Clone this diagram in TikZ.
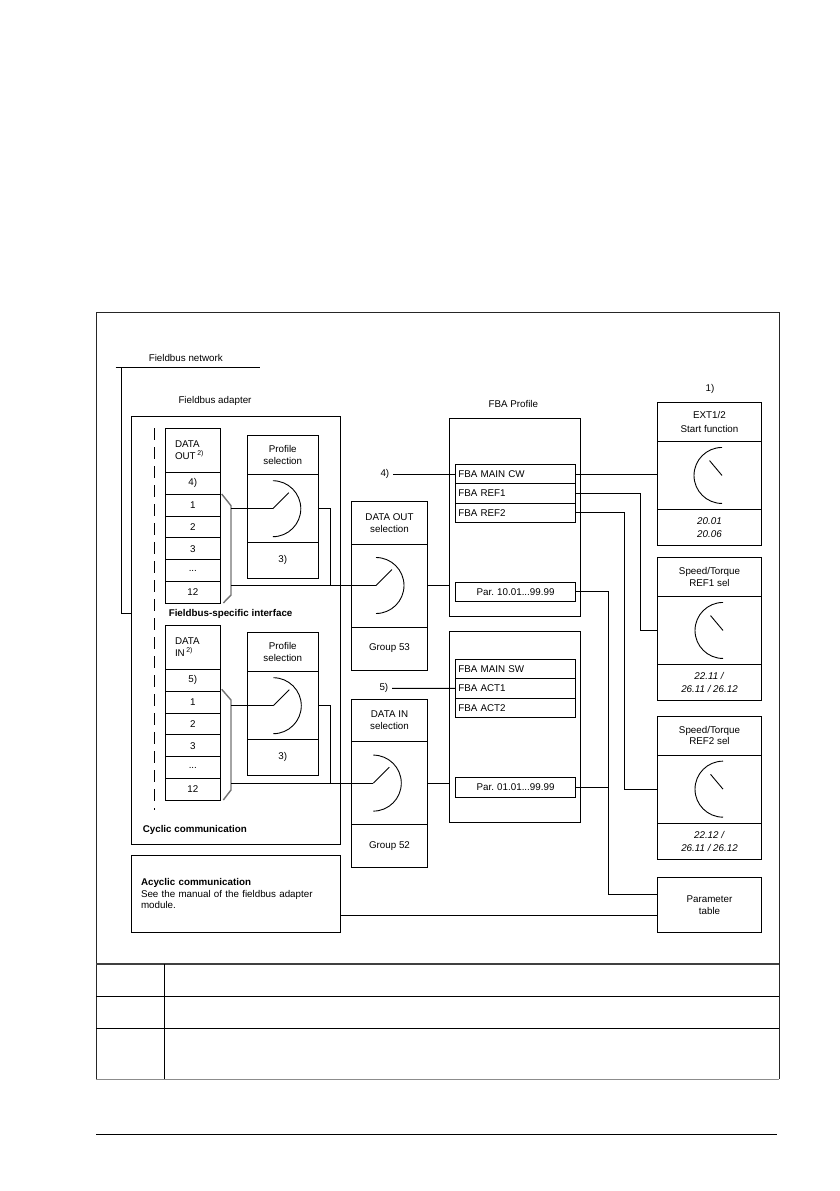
\documentclass[tikz,border=0pt]{standalone}
\usepackage{fontspec}
\setmainfont{Liberation Sans}
\frenchspacing
\usetikzlibrary{positioning}

\begin{document}
\begin{tikzpicture}[x=1pt,y=-1pt,
		font=\fontsize{9.8}{11.8}\selectfont,
		line width=0.9pt,
		box/.style={draw,inner sep=0pt,outer sep=0pt,align=center},
		cell/.style={box,minimum width=55.7pt,minimum height=21.83pt},
		profbox/.style={box,minimum width=71pt},
		selbox/.style={box,minimum width=75.6pt},
		funcbox/.style={box,minimum width=104.4pt},
		prow/.style={draw,inner sep=0pt,outer sep=0pt,inner xsep=3pt,text width=114.4pt,align=left,minimum height=19.33pt},
		bracket/.style={draw=black!55,line width=1.4pt}]

			\useasboundingbox (0,0) rectangle (839,1191);

			% frame and table
			\draw[line width=1pt,black!85] (96,1079.3) -- (96,312) -- (779,312) -- (779,1079.3);
			\draw[line width=1.5pt,black!75] (96,964) -- (779,964);
			\draw (96,996) -- (779,996);
			\draw (96,1028.7) -- (779,1028.7);
			\draw (164.3,964) -- (164.3,1079.3);
			\draw[line width=1.3pt,black!45] (96,1079.3) -- (779,1079.3);
			\draw (96,1134.3) -- (777,1134.3);

			% fieldbus side
			\node (netlbl) at (185.8,357.7) {Fieldbus network};
			\coordinate (netL) at (115.7,367.7);
			\coordinate (netR) at (260,367.7);
			\draw[line width=1.3pt] (netL) -- (netR);

			\node[box,minimum width=209.7pt,minimum height=427.6pt] (adapter) at (235.85,630.5) {};
			\node (adlbl) at (215,401) {Fieldbus adapter};
			\coordinate (tap) at (121,367.7);
			\coordinate (tapin) at (131,613.3);
			\draw (tap) |- (tapin);

			\coordinate (dashtop) at (154.3,428);
			\coordinate (dashbot) at (154.3,810);
			\draw[dash pattern=on 12pt off 7pt] (dashtop) -- (dashbot);

			\node[anchor=west] (fsi) at (165,614) {\textbf{Fieldbus-specific interface}};
			\node[anchor=west] (cyc) at (139,830) {\textbf{Cyclic communication}};

			\node[cell,minimum height=44.3pt,text width=35.7pt,align=left] (outhead) at (192.85,450.15) {DATA\\OUT\,\textsuperscript{2)}};
			\node[cell,below=0pt of outhead] (out4) {4)};
			\node[cell,below=0pt of out4] (out1) {1};
			\node[cell,below=0pt of out1] (out2) {2};
			\node[cell,below=0pt of out2] (out3) {3};
			\node[cell,below=0pt of out3] (outdots) {...};
			\node[cell,below=0pt of outdots] (out12) {12};

			\node[cell,minimum height=44.3pt,text width=35.7pt,align=left] (inhead) at (192.85,647.15) {DATA\\IN\,\textsuperscript{2)}};
			\node[cell,below=0pt of inhead] (in5) {5)};
			\node[cell,below=0pt of in5] (in1) {1};
			\node[cell,below=0pt of in1] (in2) {2};
			\node[cell,below=0pt of in2] (in3) {3};
			\node[cell,below=0pt of in3] (indots) {...};
			\node[cell,below=0pt of indots] (in12) {12};

			\draw[bracket] (221.7,494) -- (231,505.7) -- (231,595) -- (223.3,603);
			\draw[bracket] (221.7,689.3) -- (231,700) -- (231,790) -- (223.3,800);
			\coordinate (brk1) at (231,550);
			\coordinate (brk2) at (231,745);

			\node[profbox,minimum height=39pt] (prof1head) at (282.8,455.2) {Profile\\selection};
			\node[profbox,minimum height=68pt,below=0pt of prof1head] (prof1dial) {};
			\node[profbox,minimum height=35.5pt,below=0pt of prof1dial] (prof1foot) {3)};
			\coordinate (sw1) at ([xshift=-10pt]prof1dial.center);
			\draw (sw1) -- ++(45:22.6pt);
			\draw ([yshift=28pt]sw1) arc[start angle=90,end angle=-90,radius=28pt];

			\node[profbox,minimum height=39pt] (prof2head) at (282.8,652.2) {Profile\\selection};
			\node[profbox,minimum height=68pt,below=0pt of prof2head] (prof2dial) {};
			\node[profbox,minimum height=35.5pt,below=0pt of prof2dial] (prof2foot) {3)};
			\coordinate (sw2) at ([xshift=-9.5pt]prof2dial.center);
			\draw (sw2) -- ++(45:22.6pt);
			\draw ([yshift=28pt]sw2) arc[start angle=90,end angle=-90,radius=28pt];

			\node[box,minimum width=209.7pt,minimum height=77.3pt,text width=189.7pt,align=left] (acyc) at (235.85,893.65)
				{\textbf{Acyclic communication}\\See the manual of the fieldbus adapter\\module.};

			% selections
			\node[selbox,minimum height=42.3pt] (outselhead) at (389.5,522.85) {DATA OUT\\selection};
			\node[selbox,minimum height=83pt,below=0pt of outselhead] (outseldial) {};
			\node[selbox,minimum height=43pt,below=0pt of outseldial] (outselfoot) {Group 53};
			\coordinate (outsw) at ([xshift=-13.5pt]outseldial.center);
			\draw (outsw) -- ++(45:22.6pt);
			\draw ([yshift=28pt]outsw) arc[start angle=90,end angle=-90,radius=28pt];

			\node[selbox,minimum height=42.3pt] (inselhead) at (389.5,720.45) {DATA IN\\selection};
			\node[selbox,minimum height=83pt,below=0pt of inselhead] (inseldial) {};
			\node[selbox,minimum height=43pt,below=0pt of inseldial] (inselfoot) {Group 52};
			\coordinate (insw) at ([xshift=-16.2pt]inseldial.center);
			\draw (insw) -- ++(45:22.6pt);
			\draw ([yshift=28pt]insw) arc[start angle=90,end angle=-90,radius=28pt];

			\coordinate (join1) at (330,0);
			\coordinate (join2) at (330.7,0);
			\draw (sw1) -- (sw1 -| brk1);
			\draw (prof1dial.east) -| (join1 |- outsw);
			\draw (outsw) -- (outsw -| brk1);
			\draw (sw2) -- (sw2 -| brk2);
			\draw (prof2dial.east) -| (join2 |- insw);
			\draw (insw) -- (insw -| brk2);

			% FBA profile
			\node (fbalbl) at (513.3,404) {FBA Profile};
			\node[box,minimum width=131.4pt,minimum height=197.7pt] (fbaout) at (515,517.15) {};
			\node[prow] (cw) at (515.5,473.97) {FBA MAIN CW};
			\node[prow,below=0pt of cw] (ref1) {FBA REF1};
			\node[prow,below=0pt of ref1] (ref2) {FBA REF2};
			\node[prow,align=center,minimum height=19pt] (par10) at (515.5,591.8) {Par. 10.01...99.99};

			\node[box,minimum width=131.4pt,minimum height=190.6pt] (fbain) at (515,727) {};
			\node[prow] (msw) at (515.5,668.97) {FBA MAIN SW};
			\node[prow,below=0pt of msw] (act1) {FBA ACT1};
			\node[prow,below=0pt of act1] (act2) {FBA ACT2};
			\node[prow,align=center,minimum height=20pt] (par01) at (515.5,787.3) {Par. 01.01...99.99};

			\node[anchor=east] (n4) at (393,473.97) {4)};
			\node[anchor=east] (n5) at (392,688.3) {5)};
			\draw (n4.east) -- (cw.west);
			\draw (n5.east) -- (act1.west);

			\draw (outseldial.east) -- (outseldial.east -| fbaout.west);
			\draw (inseldial.east) -- (inseldial.east -| fbain.west);

			% drive side
			\node (n1) at (710,389.3) {1)};
			\node[funcbox,minimum height=39pt] (exthead) at (709.5,421.8) {EXT1/2\\[2.6pt]Start function};
			\node[funcbox,minimum height=68.3pt,below=0pt of exthead] (extdial) {};
			\node[funcbox,minimum height=36pt,below=0pt of extdial] (extfoot) {\textit{20.01}\\[1.5pt]\textit{20.06}};
			\coordinate (extsw) at ([xshift=12.5pt]extdial.center);
			\draw (extsw) -- ++(130:19.4pt);
			\draw ([yshift=28pt]extsw) arc[start angle=90,end angle=270,radius=28pt];

			\node[funcbox,minimum height=39pt] (r1head) at (709.5,576.8) {Speed/Torque\\REF1 sel};
			\node[funcbox,minimum height=68.3pt,below=0pt of r1head] (r1dial) {};
			\node[funcbox,minimum height=36pt,below=0pt of r1dial] (r1foot) {\textit{22.11 /}\\[1.5pt]\textit{26.11 / 26.12}};
			\coordinate (r1sw) at ([xshift=13.5pt]r1dial.center);
			\draw (r1sw) -- ++(130:19.4pt);
			\draw ([yshift=28pt]r1sw) arc[start angle=90,end angle=270,radius=28pt];

			\node[funcbox,minimum height=39pt] (r2head) at (709.5,735.5) {Speed/Torque\\REF2 sel};
			\node[funcbox,minimum height=68.3pt,below=0pt of r2head] (r2dial) {};
			\node[funcbox,minimum height=36pt,below=0pt of r2dial] (r2foot) {\textit{22.12 /}\\[1.5pt]\textit{26.11 / 26.12}};
			\coordinate (r2sw) at ([xshift=13.5pt]r2dial.center);
			\draw (r2sw) -- ++(130:19.4pt);
			\draw ([yshift=28pt]r2sw) arc[start angle=90,end angle=270,radius=28pt];

			\node[funcbox,minimum height=54.6pt] (ptab) at (709.5,905) {Parameter\\table};

			\coordinate (bend1) at (640.7,0);
			\coordinate (bend2) at (624.3,0);
			\coordinate (bend3) at (608.3,0);
			\draw (cw.east) -- (cw.east -| extdial.west);
			\draw (ref1.east) -- (ref1.east -| bend1) |- (r1dial.west);
			\draw (ref2.east) -- (ref2.east -| bend2) |- (r2dial.west);
			\draw (par10.east) -- (par10.east -| bend3) |- ([yshift=10.7pt]ptab.west);
			\draw (par01.east) -- (par01.east -| bend3);
			\draw ([yshift=-10pt]ptab.west) -- ([yshift=-10pt]ptab.west -| acyc.east);

		\end{tikzpicture}
\end{document}
